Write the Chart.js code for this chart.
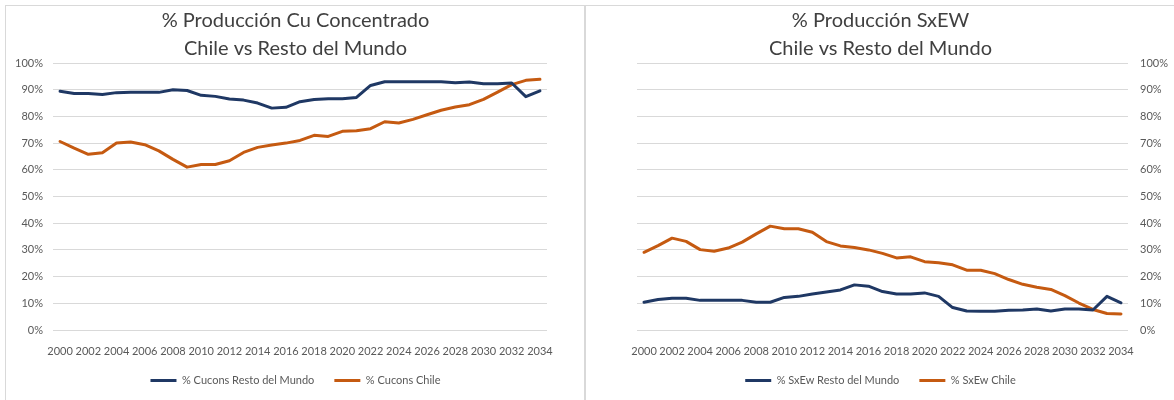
<!DOCTYPE html>
<html>
<head>
<meta charset="utf-8">
<script src="https://cdn.jsdelivr.net/npm/chart.js@4/dist/chart.umd.min.js"></script>
<style>
  html, body { margin:0; padding:0; background:#fff; }
  body { width:1174px; height:400px; position:relative; overflow:hidden; }
  .panel { position:absolute; box-sizing:border-box; border-top:1px solid #d9d9d9; border-left:1px solid #d9d9d9; }
  canvas { position:absolute; }
</style>
</head>
<body>
<div class="panel" style="left:5px; top:5px; width:580px; height:400px; border-right:1px solid #d9d9d9;"></div>
<div class="panel" style="left:585px; top:5px; width:589px; height:400px;"></div>
<canvas id="c1" style="left:6px; top:6px; width:579px; height:394px;" width="579" height="394"></canvas>
<canvas id="c2" style="left:587px; top:6px; width:587px; height:394px;" width="587" height="394"></canvas>
<script>
const years = [];
for (let y = 2000; y <= 2034; y++) years.push(String(y));

const cuconsRestoMundo = [89.4, 88.6, 88.6, 88.2, 88.9, 89.0, 89.0, 89.0, 90.0, 89.7,
  87.9, 87.5, 86.5, 86.1, 85.0, 83.1, 83.4, 85.5, 86.3, 86.6,
  86.6, 87.1, 91.6, 93.0, 93.0, 93.0, 93.0, 93.0, 92.6, 92.9,
  92.2, 92.2, 92.5, 87.4, 89.6];
const cuconsChile = [70.6, 68.1, 65.8, 66.4, 70.0, 70.4, 69.4, 67.1, 63.9, 61.0,
  62.0, 62.0, 63.4, 66.5, 68.4, 69.3, 70.0, 71.0, 72.9, 72.5,
  74.4, 74.6, 75.4, 78.0, 77.5, 78.9, 80.6, 82.3, 83.5, 84.4,
  86.4, 89.1, 91.9, 93.5, 93.9];
const sxewRestoMundo = [10.4, 11.4, 11.9, 11.9, 11.1, 11.1, 11.1, 11.1, 10.4, 10.4,
  12.2, 12.6, 13.5, 14.2, 15.0, 16.9, 16.4, 14.4, 13.5, 13.5,
  13.9, 12.6, 8.4, 7.1, 7.0, 7.0, 7.4, 7.5, 7.9, 7.1,
  7.9, 7.9, 7.5, 12.6, 10.2];
const sxewChile = [29.1, 31.6, 34.4, 33.2, 30.1, 29.5, 30.7, 32.9, 36.0, 38.9,
  37.9, 37.9, 36.6, 33.1, 31.5, 30.9, 30.0, 28.7, 27.0, 27.4,
  25.6, 25.2, 24.4, 22.4, 22.4, 21.1, 18.9, 17.1, 16.0, 15.2,
  12.9, 10.1, 7.7, 6.2, 6.0];

const yTicks = [0, 10, 20, 30, 40, 50, 60, 70, 80, 90, 100];
const title1 = ['% Producción Cu Concentrado', 'Chile vs Resto del Mundo'];
const title2 = ['% Producción SxEW', 'Chile vs Resto del Mundo'];
const legend1 = ['% Cucons Resto del Mundo', '% Cucons Chile'];
const legend2 = ['% SxEw Resto del Mundo', '% SxEw Chile'];

const BLUE = '#1F3864';
const ORANGE = '#C55A11';
const GRID = '#d9d9d9';
const TICK = '#595959';

Chart.defaults.font.family = 'Lato, "Open Sans", sans-serif';
Chart.defaults.font.size = 11;
Chart.defaults.color = TICK;

function makeChart(id, titleText, names, s1, s2, yPos, yWidth, yPad, padWidth) {
  const padPos = yPos === 'left' ? 'right' : 'left';
  return new Chart(document.getElementById(id), {
    type: 'line',
    data: {
      labels: years,
      datasets: [
        { label: names[0], data: s1, borderColor: BLUE, backgroundColor: BLUE, borderWidth: 3,
          pointRadius: 0, tension: 0, borderJoinStyle: 'round', borderCapStyle: 'round', yAxisID: 'y' },
        { label: names[1], data: s2, borderColor: ORANGE, backgroundColor: ORANGE, borderWidth: 3,
          pointRadius: 0, tension: 0, borderJoinStyle: 'round', borderCapStyle: 'round', yAxisID: 'y' }
      ]
    },
    options: {
      responsive: false,
      animation: false,
      devicePixelRatio: 1,
      layout: { padding: { left: 0, right: 0, top: 0, bottom: 4 } },
      plugins: {
        title: {
          display: true,
          text: titleText,
          color: '#404040',
          font: { size: 20, weight: 'normal', lineHeight: '28px' },
          padding: { top: 1, bottom: 0 }
        },
        legend: {
          position: 'bottom',
          labels: {
            usePointStyle: true,
            pointStyle: 'line',
            pointStyleWidth: 26,
            color: TICK,
            font: { size: 11 },
            padding: 20
          }
        },
        tooltip: { enabled: false }
      },
      scales: {
        x: {
          type: 'category',
          offset: true,
          grid: { display: false },
          border: { display: false },
          ticks: {
            autoSkip: false, maxRotation: 0, minRotation: 0, padding: 7, color: TICK,
            callback: (v, i) => (i % 2 === 0 ? years[i] : '')
          },
          afterFit: s => { s.height = 25; }
        },
        y: {
          position: yPos,
          min: 0, max: 100,
          afterBuildTicks: s => { s.ticks = yTicks.map(v => ({ value: v })); },
          grid: { color: GRID, lineWidth: 1, drawTicks: false },
          border: { display: false },
          ticks: { padding: yPad, color: TICK, callback: v => v + '%' },
          afterFit: s => { s.width = yWidth; }
        },
        yPad: {
          type: 'linear',
          axis: 'y',
          position: padPos,
          grid: { display: false },
          border: { display: false },
          ticks: { display: false },
          afterFit: s => { s.width = padWidth; }
        }
      }
    }
  });
}

makeChart('c1', title1, legend1, cuconsRestoMundo, cuconsChile, 'left', 47, 10, 38);
makeChart('c2', title2, legend2, sxewRestoMundo, sxewChile, 'right', 46, 12, 50);
</script>
</body>
</html>
